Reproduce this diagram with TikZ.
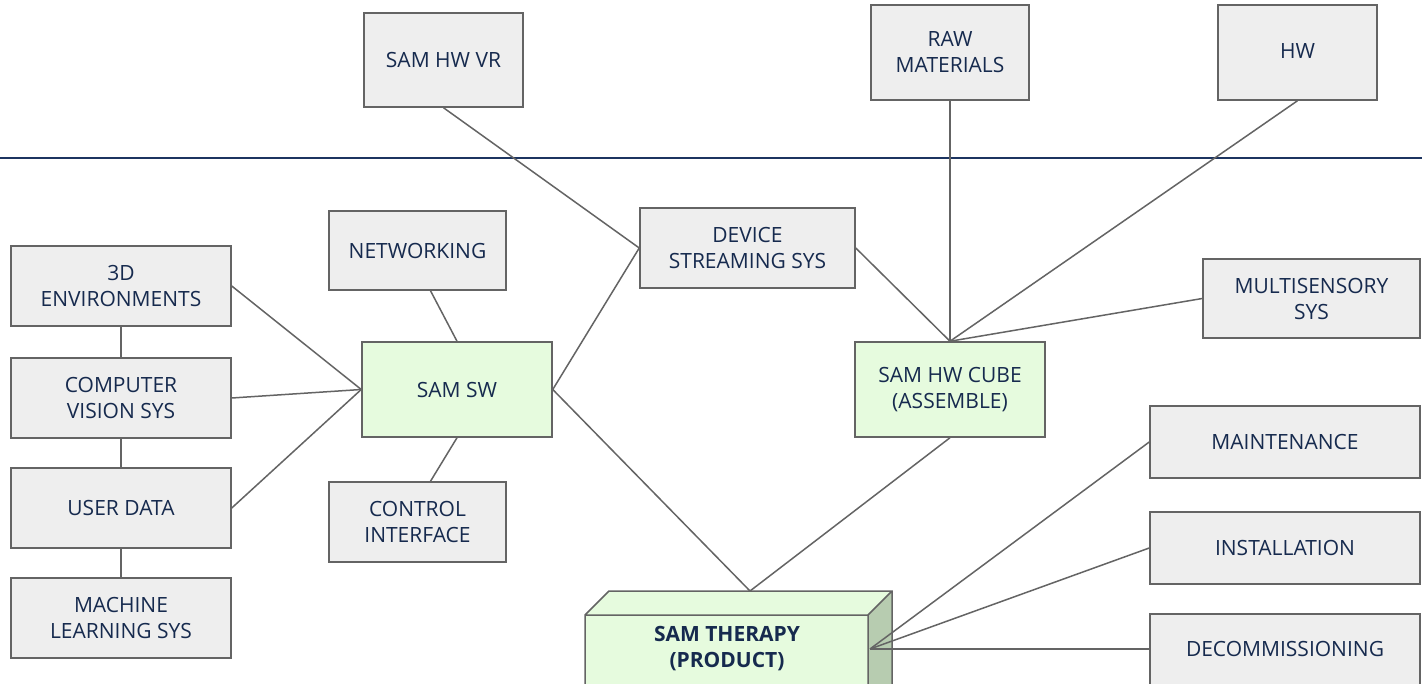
\documentclass[tikz,border=0pt]{standalone}
\usepackage{fontspec}
\setmainfont{Open Sans}
\definecolor{txt}{RGB}{22,42,78}
\definecolor{boxfill}{RGB}{238,238,238}
\definecolor{boxline}{RGB}{100,100,100}
\definecolor{greenfill}{RGB}{230,251,222}
\definecolor{greenside}{RGB}{183,204,176}
\definecolor{navy}{RGB}{28,52,96}
\begin{document}
\begin{tikzpicture}[x=1pt,y=-1pt,
  every node/.style={font=\fontsize{21}{26}\selectfont, text=txt, align=center, inner sep=0pt},
  graybox/.style={draw=boxline, line width=1.5pt, fill=boxfill},
  greenbox/.style={draw=boxline, line width=1.5pt, fill=greenfill},
  conn/.style={draw=boxline, line width=1.5pt}]
\useasboundingbox (0,0) rectangle (1425,684);
\fill[white] (0,0) rectangle (1425,684);
% horizontal rule
\draw[navy, line width=2pt] (0,158) -- (1422,158);
% boxes
\newcommand{\gbox}[6]{\node[#6, minimum width=#3-#2, minimum height=#5-#4] (#1) at ({(#2+#3)/2},{(#4+#5)/2}) {};}
\gbox{vr}{364}{523}{13}{107}{graybox}
\gbox{raw}{871}{1029}{5}{100}{graybox}
\gbox{hw}{1218}{1377}{5}{100}{graybox}
\gbox{net}{329}{506}{211}{290}{graybox}
\gbox{env}{11}{231}{246}{326}{graybox}
\gbox{cv}{11}{231}{358}{438}{graybox}
\gbox{ud}{11}{231}{468}{548}{graybox}
\gbox{ml}{11}{231}{578}{658}{graybox}
\gbox{sw}{362}{552}{342}{437}{greenbox}
\gbox{ci}{329}{506}{482}{562}{graybox}
\gbox{dev}{640}{855}{208}{288}{graybox}
\gbox{ms}{1203}{1420}{259}{338}{graybox}
\gbox{cube}{855}{1045}{342}{437}{greenbox}
\gbox{mnt}{1150}{1420}{406}{478}{graybox}
\gbox{inst}{1150}{1420}{512}{584}{graybox}
\gbox{dec}{1150}{1420}{614}{690}{graybox}
% labels
\node at (vr) {SAM HW VR};
\node at (raw) {RAW\\MATERIALS};
\node at ([yshift=1]hw.center) {HW};
\node at (net) {NETWORKING};
\node at (env) {3D\\ENVIRONMENTS};
\node at (cv) {COMPUTER\\VISION SYS};
\node at (ud) {USER DATA};
\node at (ml) {MACHINE\\LEARNING SYS};
\node at (sw) {SAM SW};
\node at (ci) {CONTROL\\INTERFACE};
\node at (dev) {DEVICE\\STREAMING SYS};
\node at (ms) {MULTISENSORY\\SYS};
\node at (cube) {SAM HW CUBE\\(ASSEMBLE)};
\node at (mnt) {MAINTENANCE};
\node at (inst) {INSTALLATION};
\node at (1285,649) {DECOMMISSIONING};
% 3D product box
\fill[greenfill] (585,615) -- (609,591) -- (892,591) -- (868,615) -- cycle;
\fill[greenside] (868,615) -- (892,591) -- (892,700) -- (868,700) -- cycle;
\fill[greenfill] (585,615) rectangle (868,700);
\draw[boxline, line width=1.5pt, line join=miter] (585,700) -- (585,615) -- (609,591) -- (892,591) -- (892,700)
  (585,615) -- (868,615) -- (892,591) (868,615) -- (868,700);
\node[font=\fontsize{21}{26}\selectfont\bfseries] (th) at (727,649) {SAM THERAPY\\(PRODUCT)};
\coordinate (thtop) at (750,591);
\coordinate (thside) at (870,649);
\coordinate (decin) at (1150,649);
% connectors
\draw[conn] (vr.south) -- (dev.west);
\draw[conn] (sw.east) -- (dev.west);
\draw[conn] (dev.east) -- (cube.north);
\draw[conn] (raw.south) -- (cube.north);
\draw[conn] (hw.south) -- (cube.north);
\draw[conn] (ms.west) -- (cube.north);
\draw[conn] (cube.south) -- (thtop);
\draw[conn] (sw.east) -- (thtop);
\draw[conn] ([xshift=13]net.south) -- (sw.north);
\draw[conn] ([xshift=13]ci.north) -- (sw.south);
\draw[conn] (env.east) -- (sw.west);
\draw[conn] (cv.east) -- (sw.west);
\draw[conn] (ud.east) -- (sw.west);
\draw[conn] (env.south) -- (cv.north);
\draw[conn] (cv.south) -- (ud.north);
\draw[conn] (ud.south) -- (ml.north);
\draw[conn] (mnt.west) -- (thside);
\draw[conn] (inst.west) -- (thside);
\draw[conn] (decin) -- (thside);
\end{tikzpicture}
\end{document}
